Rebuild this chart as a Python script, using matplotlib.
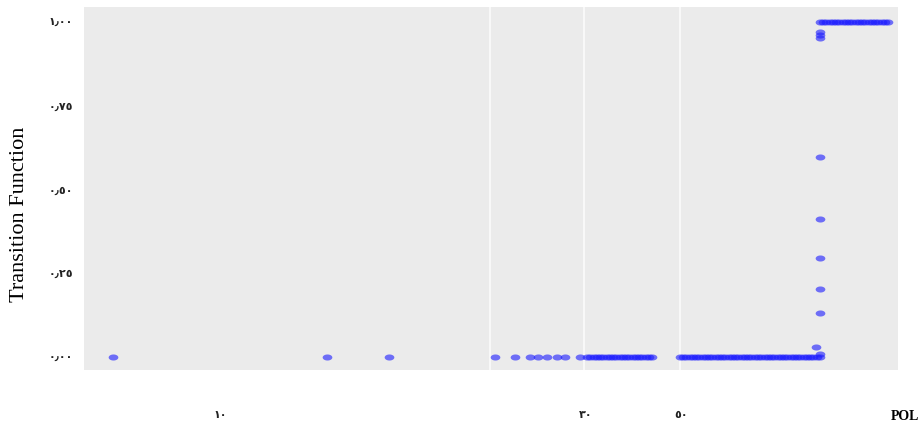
import numpy as np
import matplotlib.pyplot as plt

# -------------------------------------------------------
#              TRANSITION FUNCTION vs POL
# -------------------------------------------------------

# flat part of the transition (G = 0)
x_low = [3.6, 29.9, 37.5, 50.5, 52.9, 54.8, 55.8, 56.9, 58.1, 59.1, 60.9,
         61.8, 62.2, 62.6, 63.0, 63.4, 63.8, 64.2, 64.6, 65.0, 65.4, 65.8,
         66.2, 66.6, 67.0, 67.4, 67.8, 68.2, 68.6, 69.0, 69.4, 69.8,
         73.2, 73.6, 74.0, 74.4, 74.8, 75.2, 75.6, 76.0, 76.4, 76.8, 77.2,
         77.6, 78.0, 78.4, 78.8, 79.2, 79.6, 80.0, 80.4, 80.8, 81.2, 81.6,
         82.0, 82.4, 82.8, 83.2, 83.6, 84.0, 84.4, 84.8, 85.2, 85.6, 86.0,
         86.4, 86.8, 87.2, 87.6, 88.0, 88.4, 88.8, 89.2, 89.6, 90.0]
g_low = [0.0] * len(x_low)

# the jump at the threshold
x_jump = [89.9, 90.4, 90.4, 90.4, 90.4, 90.4, 90.4, 90.4, 90.4, 90.4, 90.4]
g_jump = [0.03, 0.0, 0.01, 0.131, 0.203, 0.296, 0.412, 0.597, 0.952, 0.961, 0.970]

# upper regime (G = 1)
x_high = [90.4, 90.8, 91.2, 91.6, 92.0, 92.4, 92.8, 93.2, 93.6, 94.0, 94.4,
          94.8, 95.2, 95.6, 96.0, 96.4, 96.8, 97.2, 97.6, 98.0, 98.4, 98.8]
g_high = [1.0] * len(x_high)

tick_pos = [16.7, 61.6, 73.3]
tick_labels = ['١٠', '٣٠', '٥٠']
y_ticks = [0.0, 0.25, 0.50, 0.75, 1.0]
y_labels = ['٠٫٠٠', '٠٫٢٥', '٠٫٥٠', '٠٫٧٥', '١٫٠٠']
grid_x = [49.9, 61.4, 73.2]

x_all = x_low + x_jump + x_high
g_all = g_low + g_jump + g_high

# ellipse marker (points look squashed in the original)
t = np.linspace(0, 2 * np.pi, 30)
ellipse = list(zip(1.6 * np.cos(t), np.sin(t)))

fig = plt.figure(figsize=(9.21, 4.28), dpi=100)
ax = fig.add_axes([84 / 921, 1 - 370 / 428, (898 - 84) / 921, (370 - 7) / 428])
ax.set_facecolor('#EBEBEB')

for gx in grid_x:
    ax.axvline(gx, color='white', lw=1.2, alpha=0.8, zorder=0)

ax.plot(x_all, g_all, linestyle='none', marker=ellipse, markersize=7,
        color=(0.1, 0.1, 1.0), alpha=0.6, markeredgewidth=0)

ax.set_xlim(0, 100)
ax.set_ylim(-0.039, 1.045)

ax.set_xticks(tick_pos)
ax.set_xticklabels(tick_labels, family=['DejaVu Sans'], fontsize=8,
                   fontweight='bold', color='#222222')
ax.set_yticks(y_ticks)
ax.set_yticklabels(y_labels, family=['DejaVu Sans'], fontsize=8,
                   fontweight='bold', color='#222222')
ax.tick_params(axis='x', length=0, pad=29)
ax.tick_params(axis='y', length=0, pad=8)

for s in ax.spines.values():
    s.set_visible(False)

ax.set_ylabel('Transition Function', family=['Liberation Serif', 'DejaVu Serif'],
              fontsize=16)
ax.yaxis.set_label_coords(-0.068, 0.43)
fig.text(919 / 921, 1 - 416 / 428, 'POL', family=['Liberation Serif', 'DejaVu Serif'],
         fontweight='bold', fontsize=10, ha='right', va='center')

fig.savefig('out.png', dpi=100)
